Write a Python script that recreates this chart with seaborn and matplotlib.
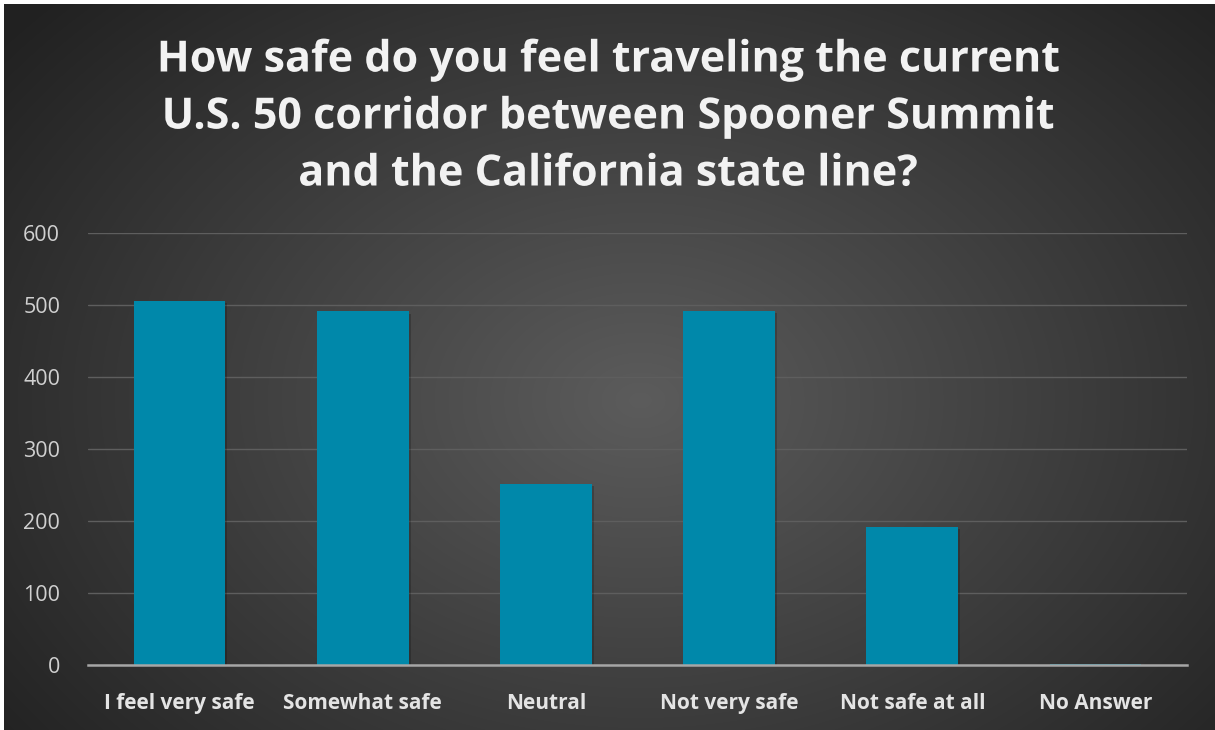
import numpy as np
import pandas as pd
import matplotlib
matplotlib.use("Agg")
import matplotlib.pyplot as plt
import matplotlib.patheffects as pe
import seaborn as sns

categories = ["I feel very safe", "Somewhat safe", "Neutral", "Not very safe",
              "Not safe at all", "No Answer"]
responses = [506, 491, 252, 492, 192, 2]
y_ticks = [0, 100, 200, 300, 400, 500, 600]
title_lines = ["How safe do you feel traveling the current",
               "U.S. 50 corridor between Spooner Summit",
               "and the California state line?"]

W, H = 1215, 730
sns.set_theme(style="dark")
plt.rcParams["font.family"] = ["Open Sans", "DejaVu Sans"]

fig = plt.figure(figsize=(W / 100, H / 100), dpi=100)

# radial dark-gray backdrop
bg = fig.add_axes([0, 0, 1, 1], zorder=0)
yy, xx = np.mgrid[0:H, 0:W]
r = np.sqrt(((xx - 640) / 780.0) ** 2 + ((yy - 400) / 560.0) ** 2)
shade = np.clip(0.36 - 0.22 * r, 0.13, 0.36)
rgb = np.dstack([shade, shade, shade])
rgb[:, :4, :] = 1.0
rgb[:4, :, :] = 1.0
bg.imshow(rgb, aspect="auto", extent=[0, W, H, 0], interpolation="bilinear")
bg.set_axis_off()

ax = fig.add_axes([88 / W, 65 / H, (1187 - 88) / W, (665 - 233) / H], zorder=1)
ax.set_facecolor("none")

df = pd.DataFrame({"category": categories, "responses": responses})
sns.barplot(data=df, x="category", y="responses", color="#0088AA",
            saturation=1, width=0.5, linewidth=0, edgecolor="none", ax=ax, zorder=3)
for p in ax.patches:
    p.set_path_effects([pe.SimplePatchShadow(offset=(1.5, -1.5), shadow_rgbFace="black",
                                             alpha=0.2), pe.Normal()])

ax.set_ylim(0, 600)
ax.set_yticks(y_ticks)
ax.set_xlim(-0.5, len(categories) - 0.5)
ax.grid(axis="y", color="#5e5e5e", linewidth=1.0, zorder=1)
ax.grid(axis="x", visible=False)
for side in ["top", "right", "left"]:
    ax.spines[side].set_visible(False)
ax.spines["bottom"].set_visible(True)
ax.spines["bottom"].set_color("#a6a6a6")
ax.spines["bottom"].set_linewidth(1.8)
ax.spines["bottom"].set_zorder(4)
ax.tick_params(axis="y", length=0, pad=20, labelsize=15.5, labelcolor="#d0d0d0")
ax.tick_params(axis="x", length=0, pad=20, labelsize=15, labelcolor="#e4e4e4")
for lbl in ax.get_xticklabels():
    lbl.set_fontweight("bold")
ax.set_xlabel("")
ax.set_ylabel("")

for i, line in enumerate(title_lines):
    fig.text(0.5, 1 - (60 + 57 * i) / H, line, ha="center", va="center",
             fontsize=31, fontweight="bold", color="#f2f2f2",
             path_effects=[pe.SimpleLineShadow(offset=(1.5, -1.5), shadow_color="black", alpha=0.6),
                           pe.Normal()])

fig.savefig("out.png", dpi=100)
